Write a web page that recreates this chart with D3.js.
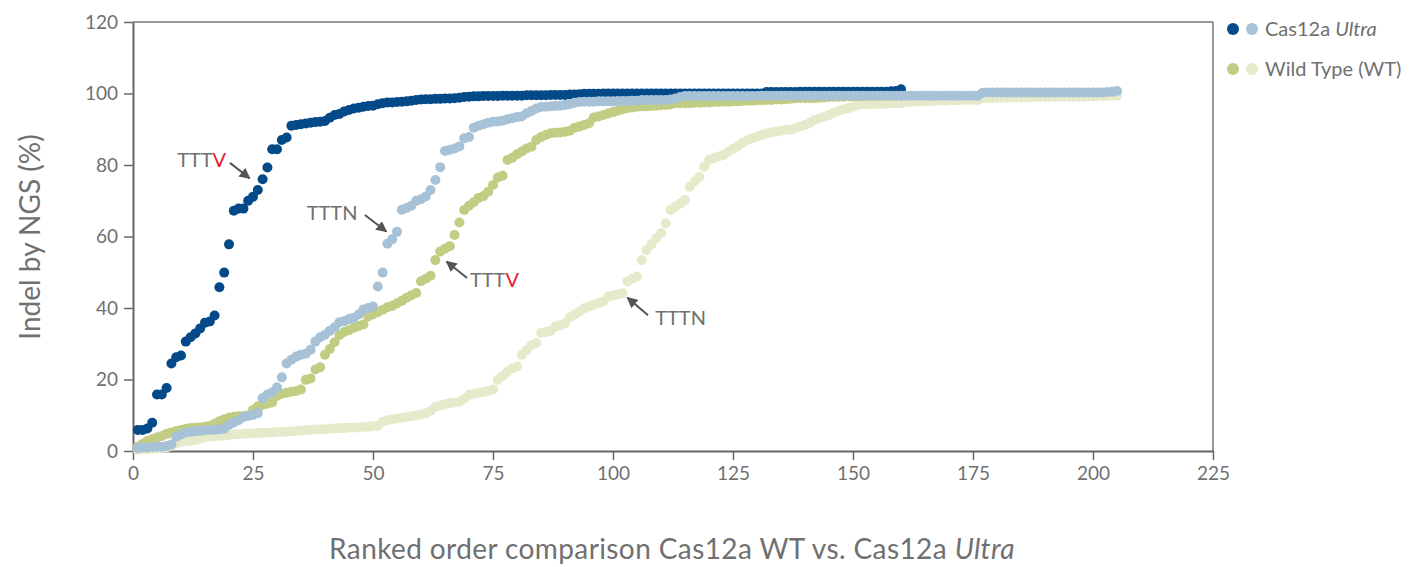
<!DOCTYPE html>
<html>
<head>
<meta charset="utf-8">
<script src="https://cdn.jsdelivr.net/npm/d3@7"></script>
<style>
  body { margin: 0; background: #fff; }
  text { font-family: Lato, "Open Sans", sans-serif; font-weight: 400; fill: #707070; }
</style>
</head>
<body>
<div id="canvas"></div>
<script>
// ranked indel % per guide
let ultraTTTV = [
  5.9, 5.9, 6.3, 7.9, 15.8, 15.8, 17.6, 24.5, 26.2, 26.7,
  30.6, 31.8, 32.9, 34.3, 35.9, 36.2, 37.9, 45.8, 49.9, 57.8,
  67.2, 67.8, 67.8, 70.0, 71.1, 73.0, 76.0, 79.3, 84.4, 84.4,
  87.0, 87.7, 91.0, 91.2, 91.4, 91.6, 91.8, 92.0, 92.1, 92.3,
  93.2, 94.0, 94.3, 95.0, 95.4, 95.8, 96.0, 96.3, 96.5, 96.6,
  97.0, 97.3, 97.5, 97.5, 97.6, 97.7, 97.8, 98.0, 98.2, 98.3,
  98.4, 98.4, 98.5, 98.5, 98.6, 98.6, 98.7, 98.8, 99.0, 99.1,
  99.2, 99.2, 99.3, 99.3, 99.3, 99.3, 99.4, 99.4, 99.4, 99.4,
  99.4, 99.5, 99.5, 99.5, 99.5, 99.5, 99.6, 99.6, 99.6, 99.6,
  99.7, 99.7, 99.8, 99.9, 99.9, 99.9, 99.9, 100, 100, 100,
  100, 100, 100, 100, 100, 100, 100, 100, 100, 100,
  100, 100, 100, 100, 100, 100, 100, 100, 100, 100,
  100, 100, 100, 100, 100, 100, 100, 100, 100, 100,
  100, 100.4, 100.4, 100.4, 100.4, 100.4, 100.4, 100.4, 100.5, 100.5,
  100.5, 100.5, 100.5, 100.5, 100.5, 100.5, 100.5, 100.5, 100.5, 100.5,
  100.5, 100.5, 100.5, 100.5, 100.5, 100.5, 100.5, 100.6, 100.7, 101.2
];

let ultraTTTN = [
  0.8, 1.0, 1.0, 1.1, 1.2, 1.2, 1.4, 1.8, 4.0, 4.6,
  5.2, 5.4, 5.5, 5.6, 5.8, 5.9, 5.9, 6.0, 6.2, 7.3,
  8.0, 8.6, 9.5, 9.8, 10.1, 10.6, 14.8, 15.8, 16.4, 17.8,
  20.6, 24.5, 25.5, 26.4, 26.9, 27.2, 28.3, 30.6, 31.8, 32.5,
  33.6, 34.6, 36.0, 36.3, 36.9, 37.3, 38.2, 39.6, 40.0, 40.4,
  46.0, 49.9, 58.0, 59.2, 61.3, 67.5, 68.0, 68.6, 70.0, 70.4,
  71.2, 73.0, 75.8, 79.4, 83.9, 84.3, 84.6, 85.2, 87.5, 87.8,
  90.4, 91.0, 91.4, 91.8, 92.1, 92.2, 92.4, 92.8, 93.1, 93.4,
  93.6, 94.5, 95.1, 95.8, 96.2, 96.3, 96.4, 96.5, 96.6, 96.8,
  97.0, 97.4, 97.6, 97.7, 97.7, 97.7, 97.8, 97.8, 97.8, 97.8,
  97.9, 97.9, 97.9, 98.0, 98.0, 98.2, 98.2, 98.2, 98.2, 98.2,
  98.2, 98.3, 98.6, 99.0, 99.3, 99.3, 99.3, 99.3, 99.3, 99.3,
  99.3, 99.3, 99.3, 99.3, 99.3, 99.3, 99.3, 99.3, 99.3, 99.3,
  99.4, 99.4, 99.4, 99.4, 99.4, 99.4, 99.4, 99.4, 99.4, 99.4,
  99.4, 99.4, 99.4, 99.4, 99.4, 99.4, 99.4, 99.4, 99.4, 99.4,
  99.4, 99.4, 99.4, 99.4, 99.4, 99.4, 99.4, 99.4, 99.4, 99.4,
  99.4, 99.4, 99.4, 99.4, 99.4, 99.4, 99.4, 99.4, 99.4, 99.4,
  99.4, 99.4, 99.4, 99.4, 99.4, 99.4, 100.2, 100.3, 100.3, 100.3,
  100.3, 100.3, 100.3, 100.3, 100.3, 100.3, 100.3, 100.3, 100.3, 100.3,
  100.3, 100.3, 100.3, 100.3, 100.3, 100.3, 100.3, 100.3, 100.3, 100.3,
  100.3, 100.3, 100.4, 100.5, 100.7
];

let wtTTTV = [
  1.2, 2.0, 2.8, 3.3, 3.8, 4.2, 4.8, 5.2, 5.6, 5.9,
  6.2, 6.4, 6.5, 6.6, 6.8, 7.0, 7.6, 8.3, 8.9, 9.3,
  9.6, 9.7, 9.8, 10.0, 11.5, 12.5, 12.9, 13.2, 13.6, 15.4,
  16.0, 16.3, 16.6, 16.8, 17.2, 19.9, 20.3, 22.8, 23.4, 26.9,
  28.5, 30.4, 32.4, 33.3, 33.8, 34.5, 35.0, 35.4, 37.6, 38.2,
  38.8, 39.5, 40.2, 40.6, 41.3, 42.0, 42.9, 43.6, 44.2, 47.5,
  48.2, 49.0, 53.4, 55.8, 56.6, 57.3, 60.4, 63.9, 67.4, 68.6,
  69.6, 70.8, 71.3, 72.5, 74.4, 76.5, 77.0, 81.4, 82.0, 83.0,
  83.8, 84.6, 85.1, 87.0, 87.8, 88.4, 88.9, 89.0, 89.1, 89.3,
  89.6, 90.4, 90.8, 91.2, 91.7, 93.3, 93.6, 94.0, 94.4, 94.8,
  95.2, 95.6, 95.9, 96.1, 96.3, 96.4, 96.4, 96.5, 96.6, 96.7,
  96.8, 96.9, 97.3, 97.3, 97.3, 97.3, 97.4, 97.4, 97.5, 97.5,
  97.6, 97.6, 97.7, 97.7, 97.8, 97.8, 97.9, 98.0, 98.0, 98.1,
  98.1, 98.2, 98.2, 98.3, 98.3, 98.4, 98.5, 98.7, 98.7, 98.7,
  98.7, 98.7, 98.8, 98.9, 99.0, 99.0, 99.1, 99.1, 99.2, 99.2,
  99.2, 99.3, 99.3, 99.3, 99.3, 99.4, 99.4, 99.4, 99.4, 99.4
];

let wtTTTN = [
  0.3, 0.4, 0.5, 0.6, 0.7, 0.8, 1.0, 1.5, 2.2, 2.5,
  2.7, 2.9, 3.1, 3.5, 3.8, 4.0, 4.1, 4.2, 4.3, 4.4,
  4.6, 4.7, 4.8, 4.9, 5.0, 5.0, 5.1, 5.1, 5.2, 5.3,
  5.4, 5.4, 5.5, 5.6, 5.7, 5.8, 5.9, 6.0, 6.0, 6.1,
  6.2, 6.3, 6.4, 6.4, 6.5, 6.6, 6.6, 6.7, 6.8, 6.9,
  7.0, 8.2, 8.6, 8.9, 9.1, 9.3, 9.5, 9.7, 9.9, 10.2,
  10.5, 11.2, 12.3, 12.7, 13.1, 13.4, 13.6, 13.8, 14.6, 15.7,
  16.0, 16.3, 16.5, 16.8, 17.2, 19.9, 21.0, 22.2, 23.0, 23.6,
  26.9, 28.2, 29.6, 30.2, 33.0, 33.3, 33.6, 34.8, 35.2, 35.7,
  37.4, 38.2, 39.0, 39.9, 40.4, 40.9, 41.4, 41.8, 43.2, 43.5,
  43.8, 44.1, 47.4, 48.2, 48.8, 53.4, 56.2, 57.8, 59.5, 60.9,
  63.7, 67.4, 68.3, 69.2, 70.2, 73.9, 75.4, 76.7, 79.5, 81.4,
  81.9, 82.4, 82.8, 83.7, 84.5, 85.3, 86.2, 87.0, 87.5, 88.0,
  88.4, 88.8, 89.1, 89.4, 89.6, 89.8, 89.9, 90.3, 90.8, 91.2,
  91.8, 92.6, 93.1, 93.5, 94.0, 94.6, 95.1, 95.5, 95.9, 96.3,
  96.8, 96.9, 97.0, 97.0, 97.1, 97.1, 97.2, 97.2, 97.3, 97.3,
  97.7, 97.7, 97.7, 97.8, 97.8, 97.9, 97.9, 98.0, 98.0, 98.1,
  98.1, 98.1, 98.2, 98.2, 98.2, 98.2, 98.7, 98.7, 98.7, 98.8,
  98.8, 98.8, 98.9, 98.9, 98.9, 98.9, 99.0, 99.0, 99.0, 99.0,
  99.0, 99.1, 99.1, 99.1, 99.1, 99.1, 99.1, 99.1, 99.2, 99.2,
  99.3, 99.3, 99.3, 99.4, 99.4
];

let xTicks = [0, 25, 50, 75, 100, 125, 150, 175, 200, 225];
let yTicks = [0, 20, 40, 60, 80, 100, 120];

let colors = {
  ultraTTTV: '#044a89',
  ultraTTTN: '#a7c2d6',
  wtTTTV: '#c0cd82',
  wtTTTN: '#e5eacb'
};

let width = 1420, height = 567;
let plotLeft = 133, plotRight = 1213, plotTop = 22, plotBottom = 451;

let svg = d3.select('#canvas').append('svg')
  .attr('width', width)
  .attr('height', height);

let x = d3.scaleLinear().domain([0, 225]).range([plotLeft, plotRight]);
let y = d3.scaleLinear().domain([0, 120]).range([plotBottom, plotTop]);

// frame on top and right
svg.append('line')
  .attr('x1', plotLeft).attr('x2', plotRight).attr('y1', plotTop).attr('y2', plotTop)
  .attr('stroke', '#777').attr('stroke-width', 1.5);
svg.append('line')
  .attr('x1', plotRight).attr('x2', plotRight).attr('y1', plotTop).attr('y2', plotBottom)
  .attr('stroke', '#777').attr('stroke-width', 1.5);

let xAxis = svg.append('g')
  .attr('transform', 'translate(0,' + plotBottom + ')')
  .call(d3.axisBottom(x).tickValues(xTicks).tickSize(9).tickSizeOuter(0).tickPadding(7));

let yAxis = svg.append('g')
  .attr('transform', 'translate(' + plotLeft + ',0)')
  .call(d3.axisLeft(y).tickValues(yTicks).tickSize(9).tickSizeOuter(0).tickPadding(6));

[xAxis, yAxis].forEach(function(g) {
  g.select('.domain').attr('stroke', '#666').attr('stroke-width', 2);
  g.selectAll('.tick line').attr('stroke', '#666').attr('stroke-width', 1.5);
  g.selectAll('.tick text')
    .style('font-family', 'Lato, sans-serif')
    .style('font-size', '19px')
    .attr('fill', '#707070');
});

// draw order: pale first, light blue on top
function drawSeries(data, color) {
  svg.append('g')
    .selectAll('circle')
    .data(data)
    .enter()
    .append('circle')
    .attr('cx', function(d, i) { return x(i + 1); })
    .attr('cy', function(d) { return y(d); })
    .attr('r', 5)
    .attr('fill', color);
}

drawSeries(wtTTTN, colors.wtTTTN);
drawSeries(wtTTTV, colors.wtTTTV);
drawSeries(ultraTTTV, colors.ultraTTTV);
drawSeries(ultraTTTN, colors.ultraTTTN);

// annotations
svg.append('defs').append('marker')
  .attr('id', 'arrow')
  .attr('viewBox', '0 0 10 10')
  .attr('refX', 9).attr('refY', 5)
  .attr('markerWidth', 11).attr('markerHeight', 11)
  .attr('markerUnits', 'userSpaceOnUse')
  .attr('orient', 'auto')
  .append('path')
  .attr('d', 'M0,0 L10,5 L0,10 z')
  .attr('fill', '#555');

let notes = [
  { label: 'TTT', red: 'V', tx: 9.2, ty: 79.4, x1: 20.2, y1: 80.6, x2: 24.3, y2: 76.3 },
  { label: 'TTTN', red: '', tx: 36.2, ty: 64.6, x1: 48.3, y1: 66.0, x2: 52.8, y2: 61.4 },
  { label: 'TTT', red: 'V', tx: 70.2, ty: 45.9, x1: 69.6, y1: 48.4, x2: 65.3, y2: 53.0 },
  { label: 'TTTN', red: '', tx: 108.8, ty: 35.2, x1: 107.3, y1: 38.0, x2: 103.0, y2: 42.9 }
];

notes.forEach(function(n) {
  svg.append('line')
    .attr('x1', x(n.x1)).attr('y1', y(n.y1))
    .attr('x2', x(n.x2)).attr('y2', y(n.y2))
    .attr('stroke', '#555')
    .attr('stroke-width', 2)
    .attr('marker-end', 'url(#arrow)');
  let t = svg.append('text')
    .attr('x', x(n.tx))
    .attr('y', y(n.ty))
    .style('font-size', '20px');
  t.append('tspan').text(n.label);
  if (n.red) t.append('tspan').style('fill', '#e8202a').text(n.red);
});

// legend
let legend = [
  { name: 'Cas12a ', italic: 'Ultra', c1: colors.ultraTTTV, c2: colors.ultraTTTN },
  { name: 'Wild Type (WT)', italic: '', c1: colors.wtTTTV, c2: colors.wtTTTN }
];

legend.forEach(function(l, i) {
  let ly = 29 + i * 40;
  svg.append('circle').attr('cx', 1233).attr('cy', ly).attr('r', 6).attr('fill', l.c1);
  svg.append('circle').attr('cx', 1252).attr('cy', ly).attr('r', 6).attr('fill', l.c2);
  let t = svg.append('text')
    .attr('x', 1265)
    .attr('y', ly + 7)
    .style('font-size', '20px');
  t.append('tspan').text(l.name);
  if (l.italic) t.append('tspan').style('font-style', 'italic').text(l.italic);
});

// axis titles
svg.append('text')
  .attr('transform', 'translate(40,237) rotate(-90)')
  .attr('text-anchor', 'middle')
  .style('font-size', '28px')
  .text('Indel by NGS (%)');

let xt = svg.append('text')
  .attr('x', 672)
  .attr('y', 559)
  .attr('text-anchor', 'middle')
  .style('font-size', '28px')
  .style('letter-spacing', '0.4px');
xt.append('tspan').text('Ranked order comparison Cas12a WT vs. Cas12a ');
xt.append('tspan').style('font-style', 'italic').text('Ultra');
</script>
</body>
</html>
